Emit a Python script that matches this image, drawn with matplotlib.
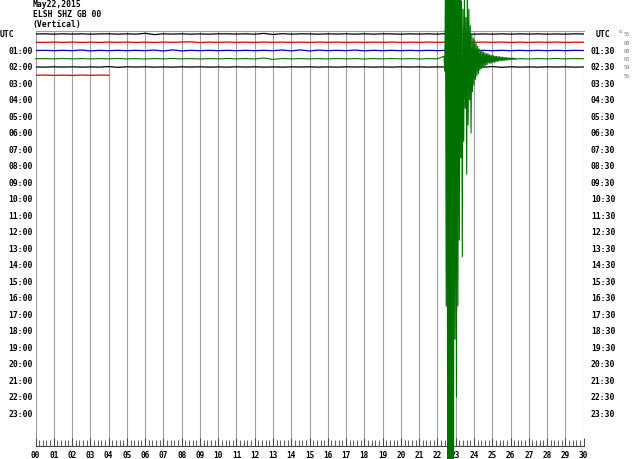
import numpy as np
import matplotlib
matplotlib.use("Agg")
import matplotlib.pyplot as plt
from matplotlib.ticker import MultipleLocator

# ---------------- data ----------------
title_lines = ["May22,2015", "ELSH SHZ GB 00", "(Vertical)"]
row_colors = ["#000000", "#dd0000", "#0000cc", "#007000", "#000000", "#dd0000"]
minute_ticks = list(range(0, 31))
left_labels = ["UTC"] + [f"{h:02d}:00" for h in range(1, 24)]
right_labels = ["UTC"] + [f"{h:02d}:30" for h in range(1, 24)]
dc_labels = ["55", "68", "68", "63", "59", "55"]

# background noise per row (rows units, up positive), sampled every 0.5 min
row0 = [0.00, 0.02, -0.02, 0.02, -0.01, 0.02, -0.02, 0.01, 0.02, -0.02, 0.02, -0.02, 0.08, -0.07, 0.02,
        -0.01, 0.02, -0.02, 0.01, -0.02, 0.02, 0.02, -0.01, 0.02, -0.02, 0.07, -0.06, 0.04, -0.02, 0.02,
        0.01, -0.02, 0.02, -0.01, 0.02, -0.02, 0.02, -0.02, 0.02, 0.01, -0.02, 0.02, -0.01, 0.02, -0.02,
        0.06, -0.05, 0.02, -0.02, 0.01, -0.02, 0.02, -0.02, 0.02, -0.01, 0.02, -0.02, 0.01, -0.02, 0.02, 0.00]
row1 = [0.00, -0.02, 0.02, -0.01, 0.02, -0.02, 0.01, -0.02, 0.02, -0.01, 0.02, -0.02, 0.01, -0.02, 0.02,
        -0.01, 0.02, 0.05, -0.04, 0.02, -0.01, 0.02, -0.02, 0.01, -0.02, 0.02, -0.01, 0.02, -0.02, 0.01,
        -0.02, 0.02, -0.01, 0.02, -0.02, 0.01, -0.02, 0.02, -0.01, 0.02, -0.02, 0.01, -0.02, 0.02, -0.01,
        0.02, -0.02, 0.01, -0.02, 0.02, -0.01, 0.02, -0.02, 0.01, -0.02, 0.02, -0.01, 0.02, -0.02, 0.01, 0.00]
row2 = [0.00, 0.02, -0.02, 0.02, -0.02, 0.06, -0.05, 0.02, -0.02, 0.02, -0.02, 0.02, -0.02, 0.05, -0.06,
        0.07, -0.05, 0.02, -0.02, 0.02, -0.02, 0.02, -0.02, 0.02, -0.02, 0.02, -0.02, 0.06, -0.05, 0.07,
        -0.06, 0.05, -0.02, 0.02, -0.02, 0.05, -0.04, 0.02, -0.02, 0.02, -0.02, 0.02, -0.02, 0.02, -0.02,
        0.02, -0.02, 0.02, -0.02, 0.02, -0.02, 0.02, -0.02, 0.02, -0.02, 0.02, -0.02, 0.02, -0.02, 0.02, 0.00]
row3 = [0.00, 0.02, -0.02, 0.03, -0.02, 0.02, -0.03, 0.02, -0.02, 0.03, -0.02, 0.02, -0.03, 0.02, -0.02,
        0.03, -0.02, 0.02, -0.03, 0.02, -0.02, 0.03, -0.02, 0.02, -0.03, 0.09, -0.08, 0.03, -0.02, 0.02,
        -0.03, 0.02, -0.02, 0.03, -0.02, 0.02, -0.03, 0.02, -0.02, 0.03, -0.02, 0.02, -0.03, 0.02, -0.02,
        0.03, -0.02, 0.02, -0.03, 0.02, -0.02, 0.03, -0.02, 0.02, -0.03, 0.02, -0.02, 0.03, -0.02, 0.02, 0.00]
row4 = [0.00, -0.02, 0.02, -0.01, 0.02, -0.02, 0.01, -0.02, 0.05, -0.04, 0.02, -0.01, 0.02, -0.02, 0.01,
        -0.02, 0.02, -0.01, 0.02, -0.02, 0.01, -0.02, 0.02, -0.01, 0.02, -0.02, 0.01, -0.02, 0.02, -0.01,
        0.02, -0.02, 0.01, -0.02, 0.02, -0.01, 0.02, -0.02, 0.01, -0.02, 0.02, -0.01, 0.02, -0.02, 0.01,
        -0.02, 0.02, -0.01, 0.02, -0.02, 0.05, -0.04, 0.02, -0.02, 0.01, -0.02, 0.02, -0.01, 0.02, -0.02, 0.00]
row5 = [0.00, 0.02, -0.02, 0.01, -0.02, 0.02, -0.01, 0.02, 0.00]
row5_end_min = 4.0

# earthquake waveform in the 01:30 row (rows units, up positive), one sample every 0.04 min
quake_start_min = 22.36
quake_step_min = 0.04
quake_amp = [0.3, -1.5, 8, -30, 12, -52, 15, -55, 14, -52, 16, -50, 12, -49, 10, -34, 12, -41, 9, -30,
             8, -22, 9, -12, 7, -24, 6, -10, 8, -6, 5, -14, 9, -8, 6, -5, 4, -9, 3, -4,
             2.5, -3.2, 2.2, -2.5, 1.8, -2.1, 1.5, -1.8, 1.2, -1.4, 1.0, -1.2, 0.9, -1.0, 0.8, -0.9,
             0.7, -0.8, 0.6, -0.7, 0.6, -0.5, 0.5, -0.6, 0.4, -0.5, 0.45, -0.4, 0.35, -0.45, 0.3, -0.35,
             0.3, -0.3, 0.25, -0.3, 0.25, -0.2, 0.2, -0.25, 0.2, -0.2, 0.15, -0.2, 0.15, -0.15, 0.12,
             -0.15, 0.1, -0.12, 0.1, -0.1, 0.08, -0.1, 0.08, -0.08, 0.06, -0.07, 0.05, -0.05]
quake_row = 3

# ---------------- figure ----------------
W, H = 640, 460
fig = plt.figure(figsize=(W / 100, H / 100), dpi=100)
fig.patch.set_facecolor("white")

x0_px, x1_px = 35.5, 583.6
top_px, bot_px = 31.7, 446.5
ax = fig.add_axes([x0_px / W, 1 - bot_px / H, (x1_px - x0_px) / W, (bot_px - top_px) / H])
ax.set_xlim(0, 30)
ax.set_ylim(49.9, -0.4)

mono = "DejaVu Sans Mono"

# grid lines
ax.vlines(minute_ticks, -0.4, 49.9, colors="#a0a0a0", linewidth=0.8, zorder=1)
for s in ["left", "right"]:
    ax.spines[s].set_visible(False)
ax.spines["top"].set_color("#a0a0a0")
ax.spines["top"].set_linewidth(0.8)
ax.spines["bottom"].set_color("#444444")
ax.spines["bottom"].set_linewidth(0.8)

ax.set_yticks([])
ax.set_xticks(minute_ticks)
ax.set_xticklabels([f"{m:02d}" for m in minute_ticks], fontfamily=mono, fontweight="bold", fontsize=5.6)
ax.xaxis.set_minor_locator(MultipleLocator(0.2))
ax.tick_params(axis="x", which="major", direction="in", length=6, width=0.7, pad=3, colors="#444444",
               labelcolor="black")
ax.tick_params(axis="x", which="minor", direction="in", length=4, width=0.6, colors="#444444")

# noise rows
rows = [row0, row1, row2, row3, row4]
for i, vals in enumerate(rows):
    vals = np.array(vals, dtype=float)
    t = np.linspace(0, 30, len(vals))
    if i == quake_row:
        qa = np.array(quake_amp, dtype=float)
        qt = quake_start_min + quake_step_min * np.arange(len(qa))
        pre = t < qt[0]
        post = t > qt[-1]
        tt = np.concatenate([t[pre], qt, t[post]])
        vv = np.concatenate([vals[pre], qa, vals[post]])
        ax.plot(tt, i - vv, color=row_colors[i], linewidth=0.8, clip_on=False, zorder=5)
    else:
        ax.plot(t, i - vals, color=row_colors[i], linewidth=0.9, zorder=3)
vals5 = np.array(row5, dtype=float)
ax.plot(np.linspace(0, row5_end_min, len(vals5)), 5 - vals5, color=row_colors[5], linewidth=0.9, zorder=3)

# hour labels
for k, lab in enumerate(left_labels):
    r = 2 * k
    if k == 0:
        ax.text(-35.5 / 18.27, r, lab, ha="left", va="center", fontfamily=mono, fontweight="bold",
                fontsize=5.8, clip_on=False)
    else:
        ax.text(-0.14, r, lab, ha="right", va="center", fontfamily=mono, fontweight="bold",
                fontsize=5.8, clip_on=False)
for k, lab in enumerate(right_labels):
    r = 2 * k
    ax.text(31.06, r, lab, ha="center", va="center", fontfamily=mono, fontweight="bold",
            fontsize=5.8, clip_on=False)

# DC offsets column
for k, lab in enumerate(dc_labels):
    ax.text(32.2, k, lab, ha="left", va="center", fontfamily=mono, fontsize=3.8, color="#777777",
            clip_on=False)
ax.text(31.95, -0.35, "DC", ha="left", va="center", fontfamily=mono, fontsize=3.2, color="#777777",
        clip_on=False)

# title
for j, line in enumerate(title_lines):
    fig.text(33 / W, 1 - (4.5 + 10 * j) / H, line, ha="left", va="center", fontfamily=mono,
             fontweight="bold", fontsize=5.8)

fig.savefig("out.png", dpi=100, facecolor="white")
